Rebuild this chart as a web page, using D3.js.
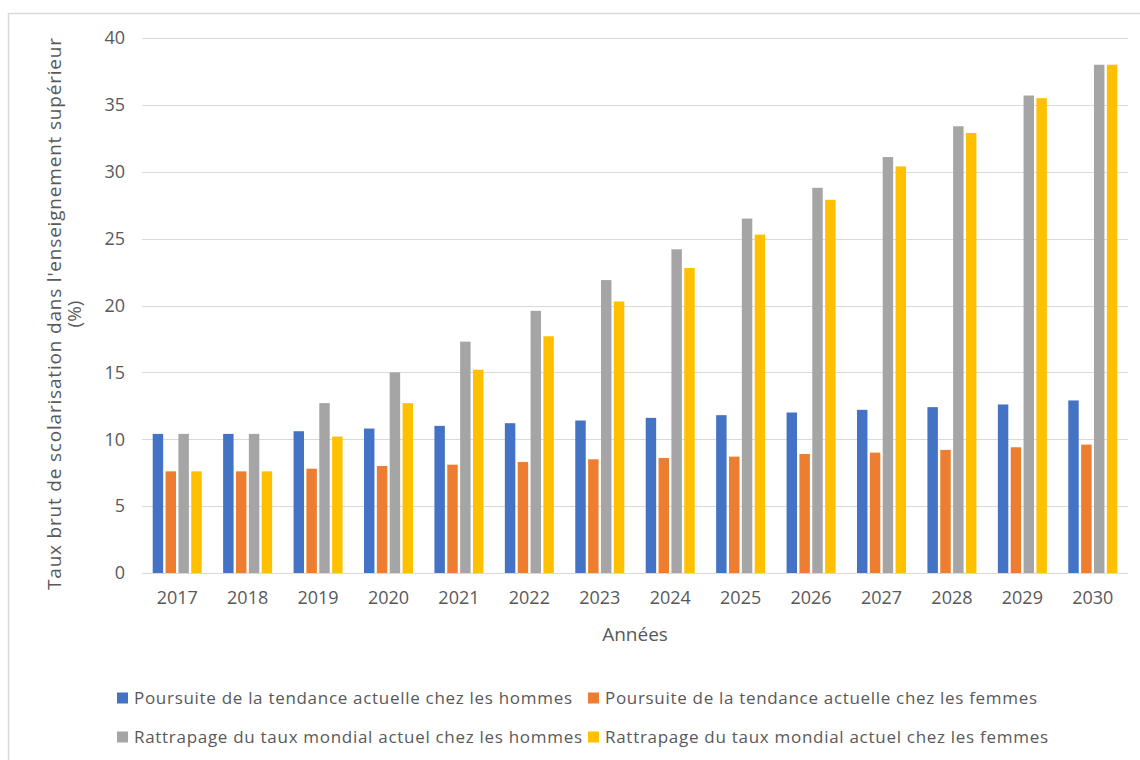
<!DOCTYPE html>
<html>
<head>
<meta charset="utf-8">
<script src="https://cdn.jsdelivr.net/npm/d3@7"></script>
<style>
  body { margin: 0; background: #fff; }
  text { font-family: "Open Sans", "Noto Sans", sans-serif; fill: #595959; }
</style>
</head>
<body>
<div id="chart"></div>
<script>
// Data
const years = ["2017", "2018", "2019", "2020", "2021", "2022", "2023", "2024", "2025", "2026", "2027", "2028", "2029", "2030"];
const seriesNames = [
    "Poursuite de la tendance actuelle chez les hommes",
    "Poursuite de la tendance actuelle chez les femmes",
    "Rattrapage du taux mondial actuel chez les hommes",
    "Rattrapage du taux mondial actuel chez les femmes"
];
const tendanceHommes = [10.4, 10.4, 10.6, 10.8, 11.0, 11.2, 11.4, 11.6, 11.8, 12.0, 12.2, 12.4, 12.6, 12.9];
const tendanceFemmes = [7.6, 7.6, 7.8, 8.0, 8.1, 8.3, 8.5, 8.6, 8.7, 8.9, 9.0, 9.2, 9.4, 9.6];
const rattrapageHommes = [10.4, 10.4, 12.7, 15.0, 17.3, 19.6, 21.9, 24.2, 26.5, 28.8, 31.1, 33.4, 35.7, 38.0];
const rattrapageFemmes = [7.6, 7.6, 10.2, 12.7, 15.2, 17.7, 20.3, 22.8, 25.3, 27.9, 30.4, 32.9, 35.5, 38.0];
const yTicks = [0, 5, 10, 15, 20, 25, 30, 35, 40];
const colors = ["#4472c4", "#ed7d31", "#a5a5a5", "#ffc000"];

const chart = {
    width: 1140,
    height: 760,
    margin: { left: 142, right: 12, top: 38, bottom: 187 }
};

const seriesValues = [tendanceHommes, tendanceFemmes, rattrapageHommes, rattrapageFemmes];
const table = years.map((year, i) => ({
    year: year,
    values: seriesValues.map((vals, s) => ({ series: s, value: vals[i] }))
}));

const svg = d3.select("#chart")
    .append("svg")
    .attr("width", chart.width)
    .attr("height", chart.height);

// Chart area border (only top and left visible in the crop)
svg.append("rect")
    .attr("x", 8.5)
    .attr("y", 13.5)
    .attr("width", chart.width + 20)
    .attr("height", chart.height + 20)
    .attr("fill", "#fff")
    .attr("stroke", "#d9d9d9")
    .attr("stroke-width", 1.5);

const plotLeft = chart.margin.left;
const plotRight = chart.width - chart.margin.right;
const plotTop = chart.margin.top;
const plotBottom = chart.height - chart.margin.bottom;

const x0 = d3.scaleBand()
    .domain(years)
    .range([plotLeft, plotRight])
    .paddingInner(0.27)
    .paddingOuter(0.135);

const x1 = d3.scaleBand()
    .domain(d3.range(seriesNames.length))
    .range([0, x0.bandwidth()]);

const y = d3.scaleLinear()
    .domain([0, 40])
    .range([plotBottom, plotTop]);

// Gridlines
svg.append("g")
    .selectAll("line")
    .data(yTicks)
    .enter()
    .append("line")
    .attr("x1", plotLeft)
    .attr("x2", plotRight)
    .attr("y1", d => Math.round(y(d)) + 0.5)
    .attr("y2", d => Math.round(y(d)) + 0.5)
    .attr("stroke", "#d9d9d9")
    .attr("stroke-width", 1.2);

// Y axis labels
const yAxis = svg.append("g")
    .attr("transform", `translate(${plotLeft - 17}, 0)`)
    .call(d3.axisLeft(y).tickValues(yTicks).tickSize(0).tickPadding(0));
yAxis.select(".domain").remove();
yAxis.selectAll("text")
    .style("font-size", "18px")
    .attr("fill", "#595959");

// X axis labels
const xAxis = svg.append("g")
    .attr("transform", `translate(0, ${plotBottom + 18})`)
    .call(d3.axisBottom(x0).tickSize(0).tickPadding(0));
xAxis.select(".domain").remove();
xAxis.selectAll("text")
    .style("font-size", "18px")
    .attr("dy", "0.7em")
    .attr("fill", "#595959");

// Bars
const groups = svg.append("g")
    .selectAll("g")
    .data(table)
    .enter()
    .append("g")
    .attr("transform", d => `translate(${x0(d.year)}, 0)`);

groups.selectAll("rect")
    .data(d => d.values)
    .enter()
    .append("rect")
    .attr("x", d => x1(d.series) + 1.2)
    .attr("width", x1.bandwidth() - 2.4)
    .attr("y", d => y(d.value))
    .attr("height", d => y(0) - y(d.value))
    .attr("fill", d => colors[d.series]);

// Axis titles
svg.append("text")
    .attr("x", (plotLeft + plotRight) / 2)
    .attr("y", 641)
    .attr("text-anchor", "middle")
    .style("font-size", "19px")
    .text("Années");

const yTitle = svg.append("text")
    .attr("transform", "translate(61, 314) rotate(-90)")
    .attr("text-anchor", "middle")
    .style("font-size", "19px");
yTitle.append("tspan")
    .attr("x", 0)
    .attr("y", 0)
    .attr("textLength", 552)
    .attr("lengthAdjust", "spacing")
    .text("Taux brut de scolarisation dans l'enseignement supérieur");
yTitle.append("tspan")
    .attr("x", 0)
    .attr("y", 20)
    .text("(%)");

// Legend (two rows, two columns)
const legendPos = [
    { x: 117, y: 698, w: 438 },
    { x: 588, y: 698, w: 432 },
    { x: 117, y: 737, w: 448 },
    { x: 588, y: 737, w: 443 }
];
const legend = svg.append("g")
    .selectAll("g")
    .data(seriesNames)
    .enter()
    .append("g")
    .attr("transform", (d, i) => `translate(${legendPos[i].x}, ${legendPos[i].y})`);

legend.append("rect")
    .attr("x", 0)
    .attr("y", -5.5)
    .attr("width", 11)
    .attr("height", 11)
    .attr("fill", (d, i) => colors[i]);

legend.append("text")
    .attr("x", 17)
    .attr("dy", "0.35em")
    .attr("textLength", (d, i) => legendPos[i].w)
    .attr("lengthAdjust", "spacing")
    .style("font-size", "17px")
    .text(d => d);
</script>
</body>
</html>
